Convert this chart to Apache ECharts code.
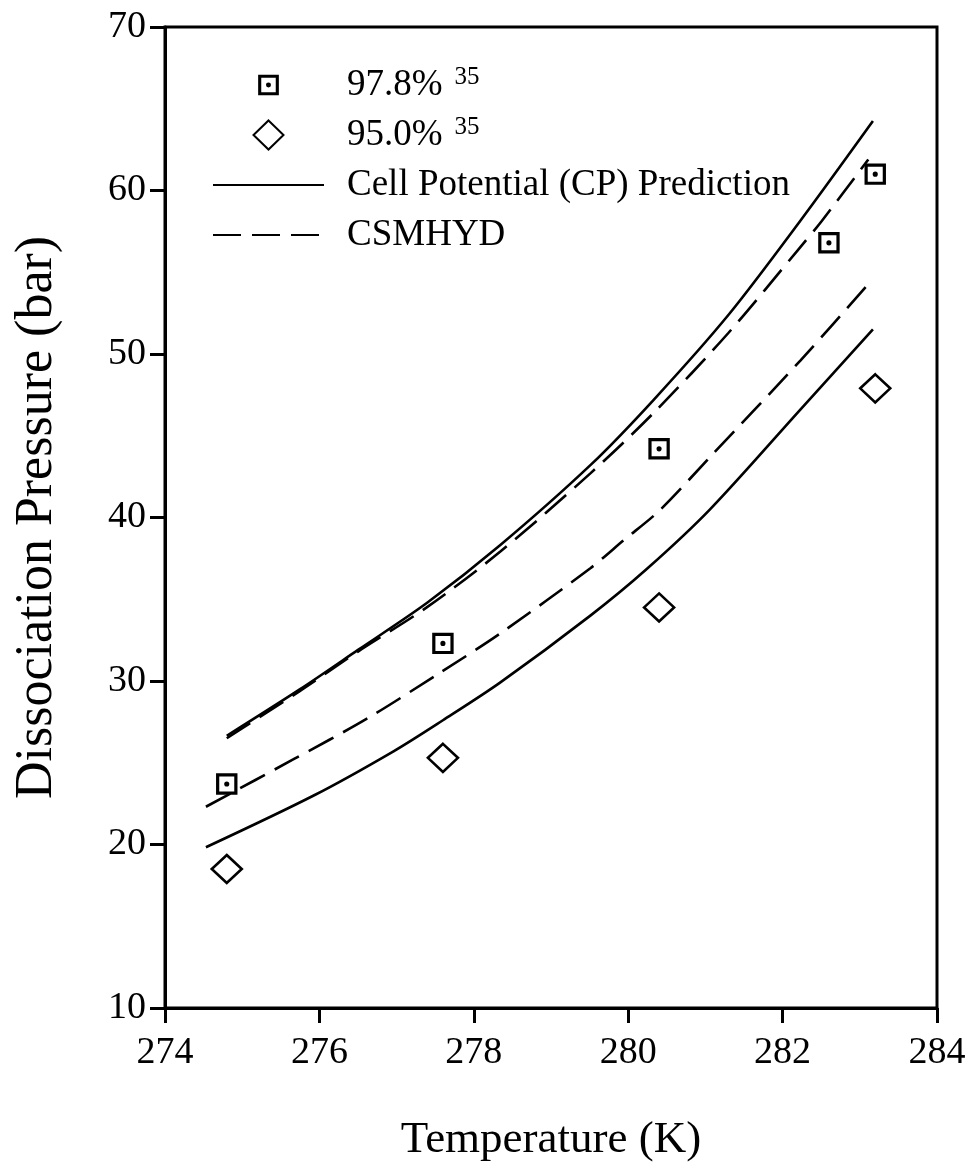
<!DOCTYPE html>
<html>
<head>
<meta charset="utf-8">
<script src="https://cdn.jsdelivr.net/npm/echarts@6/dist/echarts.min.js"></script>
<style>
html,body{margin:0;padding:0;background:#fff;}
#chart{width:969px;height:1171px;}
</style>
</head>
<body>
<div id="chart"></div>
<script>
// ---- data ----
const xTicks = [274, 276, 278, 280, 282, 284];
const yTicks = [10, 20, 30, 40, 50, 60, 70];

const exp978X = [274.8, 277.6, 280.4, 282.6, 283.2];
const exp978Y = [23.7, 32.3, 44.2, 56.8, 61.0];

const exp950X = [274.8, 277.6, 280.4, 283.2];
const exp950Y = [18.5, 25.3, 34.5, 47.9];

const cp978X = [274.8, 275.75, 276.5, 277.4, 278.34, 279.51, 280.33, 281.3, 282.23, 283.17];
const cp978Y = [26.65, 29.5, 31.9, 34.8, 38.3, 43.2, 47.2, 52.4, 58.15, 64.25];

const cs978X = [274.8, 275.75, 276.5, 277.39, 278.34, 279.51, 280.33, 281.3, 282.23, 282.51, 283.11];
const cs978Y = [26.5, 29.4, 31.8, 34.5, 37.9, 42.7, 46.4, 51.3, 56.54, 58.15, 61.9];

const cs950X = [274.53, 275.66, 276.61, 277.56, 278.34, 279.51, 279.94, 280.41, 281.06, 282.23, 283.17];
const cs950Y = [22.31, 25.2, 27.68, 30.5, 32.9, 36.9, 38.6, 40.45, 43.7, 49.6, 54.6];

const cp950X = [274.53, 275.92, 276.96, 277.6, 278.34, 279.51, 280.24, 281.06, 282.23, 283.17];
const cp950Y = [19.83, 22.98, 25.7, 27.6, 29.9, 34.0, 36.85, 40.5, 46.6, 51.5];

const names = {
  s978: '97.8%',
  s950: '95.0%',
  cp: 'Cell Potential (CP) Prediction',
  cs: 'CSMHYD'
};
const refNum = '35';
const xTitle = 'Temperature (K)';
const yTitle = 'Dissociation Pressure (bar)';

// ---- build ----
const zip = (xs, ys) => xs.map((x, i) => [x, ys[i]]);
const FONT = 'Liberation Serif';
// square ring with centre dot; two tiny corner specks pad the box so the legend icon stays small
const squareDot = 'path://M-4,-4L-3.95,-4L-3.95,-3.95Z M24,24L23.95,24L23.95,23.95Z M0,0L20,0L20,20L0,20Z M3,3L3,17L17,17L17,3Z M10,7.6A2.4,2.4 0 1,1 10,12.4A2.4,2.4 0 1,1 10,7.6Z';
const diamondPath = 'path://M15,0L30,14.5L15,29L0,14.5Z';

const lineSeries = (name, xs, ys, dashed) => ({
  name: name,
  type: 'line',
  data: zip(xs, ys),
  smooth: 0.3,
  symbol: 'none',
  lineStyle: { color: '#000', width: 2.6, type: dashed ? [28, 11] : 'solid' },
  itemStyle: { color: '#000' },
  z: 2
});

const chart = echarts.init(document.getElementById('chart'), null, { renderer: 'canvas' });
chart.setOption({
  backgroundColor: '#fff',
  animation: false,
  grid: {
    left: 165, right: 32, top: 27, bottom: 163,
    show: true, borderColor: '#000', borderWidth: 3, backgroundColor: 'transparent'
  },
  legend: {
    orient: 'vertical',
    left: 207, top: 60,
    itemWidth: 111, itemHeight: 29, itemGap: 10,
    selectedMode: false,
    data: [
      { name: names.s978 },
      { name: names.s950 },
      { name: names.cp, itemStyle: { opacity: 0 } },
      { name: names.cs, itemStyle: { opacity: 0 } }
    ],
    formatter: function (n) {
      if (n === names.s978 || n === names.s950) return '{m|' + n + '}{s|' + refNum + '}';
      return '{m|' + n + '}';
    },
    textStyle: {
      fontFamily: FONT, fontSize: 37, color: '#000', lineHeight: 40,
      padding: [0, 0, 0, 18],
      rich: {
        m: { fontFamily: FONT, fontSize: 37, color: '#000', lineHeight: 40, verticalAlign: 'middle' },
        s: { fontFamily: FONT, fontSize: 25, color: '#000', lineHeight: 22, verticalAlign: 'top', padding: [0, 0, 0, 12] }
      }
    }
  },
  xAxis: {
    type: 'value', min: xTicks[0], max: xTicks[xTicks.length - 1], interval: 2,
    name: xTitle, nameLocation: 'middle', nameGap: 110,
    nameTextStyle: { fontFamily: FONT, fontSize: 45, color: '#000' },
    axisLine: { onZero: false, lineStyle: { color: '#000', width: 3 } },
    axisTick: { show: true, inside: false, length: 15, lineStyle: { color: '#000', width: 3 } },
    axisLabel: { fontFamily: FONT, fontSize: 38, color: '#000', margin: 26 },
    splitLine: { show: false }
  },
  yAxis: {
    type: 'value', min: yTicks[0], max: yTicks[yTicks.length - 1], interval: 10,
    name: yTitle, nameLocation: 'middle', nameGap: 102, nameRotate: 90,
    nameTextStyle: { fontFamily: FONT, fontSize: 52, color: '#000' },
    axisLine: { onZero: false, lineStyle: { color: '#000', width: 3 } },
    axisTick: { show: true, inside: false, length: 15, lineStyle: { color: '#000', width: 3 } },
    axisLabel: { fontFamily: FONT, fontSize: 38, color: '#000', margin: 19 },
    splitLine: { show: false }
  },
  series: [
    lineSeries(names.cp, cp978X, cp978Y, false),
    lineSeries(names.cs, cs978X, cs978Y, true),
    lineSeries(names.cs, cs950X, cs950Y, true),
    lineSeries(names.cp, cp950X, cp950Y, false),
    {
      name: names.s978, type: 'scatter', data: zip(exp978X, exp978Y),
      symbol: squareDot, symbolSize: 30, symbolKeepAspect: true,
      itemStyle: { color: '#000', opacity: 1 }, z: 4
    },
    {
      name: names.s950, type: 'scatter', data: zip(exp950X, exp950Y),
      symbol: diamondPath, symbolSize: [30, 29], symbolKeepAspect: true,
      itemStyle: { color: '#fff', borderColor: '#000', borderWidth: 2.6, opacity: 1 }, z: 4
    }
  ]
});
</script>
</body>
</html>
